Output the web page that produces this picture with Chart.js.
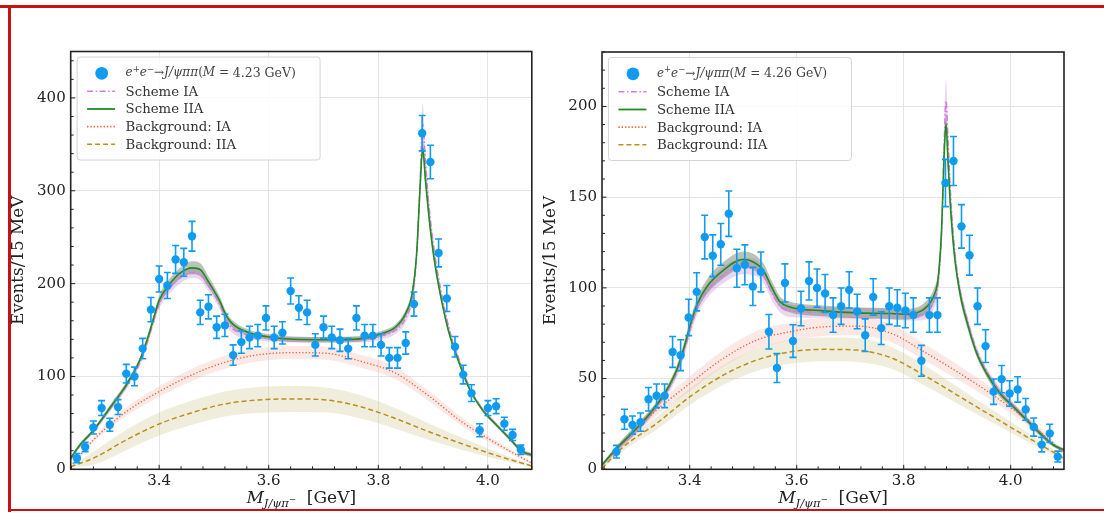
<!DOCTYPE html>
<html>
<head>
<meta charset="utf-8">
<script src="https://cdn.jsdelivr.net/npm/chart.js@4.4.1/dist/chart.umd.min.js"></script>
<style>
  html, body { margin: 0; padding: 0; background: #fff; }
  #wrap { position: relative; width: 1104px; height: 513px; overflow: hidden; }
  canvas { position: absolute; top: 0; }
  #cL { left: 0; }
  #cR { left: 536px; }
  .red { position: absolute; background: #c81212; }
</style>
</head>
<body>
<div id="wrap">
  <canvas id="cL" width="536" height="513"></canvas>
  <canvas id="cR" width="568" height="513"></canvas>
  <div class="red" style="left:0;top:5px;width:1104px;height:3px"></div>
  <div class="red" style="left:8px;top:5px;width:3px;height:507px"></div>
  <div class="red" style="left:8px;top:509px;width:1096px;height:2px"></div>
</div>
<script>
// ---- data: left panel (M = 4.23 GeV) ----
const binsL = [3.250, 3.265, 3.280, 3.295, 3.310, 3.325, 3.340, 3.355, 3.370, 3.385, 3.400, 3.415, 3.430, 3.445, 3.460, 3.475, 3.490, 3.505, 3.520, 3.535,
  3.550, 3.565, 3.580, 3.595, 3.610, 3.625, 3.640, 3.655, 3.670, 3.685, 3.700, 3.715, 3.730, 3.745, 3.760, 3.775, 3.790, 3.805, 3.820, 3.835,
  3.850, 3.865, 3.880, 3.895, 3.910, 3.925, 3.940, 3.955, 3.970, 3.985, 4.000, 4.015, 4.030, 4.045, 4.060];
const countsL = [12, 24, 45, 66, 48, 67, 103, 100, 130, 172, 205, 198, 226, 223, 251, 169, 175, 153, 155, 123,
  137, 142, 144, 163, 142, 147, 192, 174, 169, 134, 153, 142, 139, 130, 163, 144, 144, 134, 120, 120,
  136, 178, 362, 331, 233, 184, 132, 102, 82, 42, 66, 68, 49, 37, 21];
const errsL = [5, 5, 7, 8, 7, 8, 10, 10, 11, 13, 14, 14, 15, 15, 16, 13, 13, 12, 12, 11,
  12, 12, 12, 13, 12, 12, 14, 13, 13, 12, 12, 12, 12, 11, 13, 12, 12, 12, 11, 11,
  12, 13, 19, 18, 15, 14, 11, 10, 9, 7, 8, 8, 7, 6, 5];

// fit curves, left
const fitXL = [3.2386, 3.255, 3.28, 3.31, 3.34, 3.365, 3.38, 3.39, 3.40, 3.42, 3.44, 3.46, 3.475, 3.49, 3.51, 3.523, 3.535, 3.56, 3.595, 3.645,
  3.705, 3.765, 3.808, 3.832, 3.85, 3.862, 3.87, 3.876, 3.881, 3.886, 3.893, 3.902, 3.914, 3.929, 3.948, 3.966, 3.99, 4.015, 4.039, 4.063, 4.0801];
const schemeIIAL = [12, 26, 42, 66, 91, 118, 143, 163, 182, 200, 212, 217, 215, 202, 182, 165, 156, 148, 143, 140,
  139.5, 140.5, 146.5, 153.5, 168, 190, 233, 301, 346, 312, 269, 226, 186, 147, 114, 87, 64, 48, 33.5, 19, 15.5];
const schemeIAL = [11, 25, 41, 65, 89, 115, 140, 160, 178, 196, 207, 212, 210, 198, 178, 160, 151, 145, 141, 139.5,
  139.5, 139.5, 144, 150, 163, 185, 230, 305, 372, 330, 280, 235, 193, 152, 117, 89, 65, 48.5, 33.5, 19, 15];
const bandIIAL = [2, 2, 2, 3, 3, 3, 4, 4, 5, 6, 6, 7, 7, 6, 5, 4, 4, 3, 3, 3,
  3, 3, 3, 3, 4, 5, 6, 8, 10, 8, 6, 5, 4, 3, 3, 2, 2, 2, 2, 2, 2];
const bandIAL = [2, 2, 2, 3, 3, 3, 4, 4, 5, 6, 6, 6, 6, 6, 5, 5, 5, 4, 3, 3,
  3, 3, 4, 4, 5, 6, 8, 14, 22, 14, 8, 6, 4, 3, 3, 2, 2, 2, 2, 2, 2];
const bgXL = [3.2386, 3.28, 3.34, 3.40, 3.46, 3.52, 3.58, 3.645, 3.705, 3.77, 3.83, 3.89, 3.955, 4.015, 4.0801];
const bgIAL = [3, 31.6, 62, 83.7, 101.7, 115.3, 123.2, 125.7, 125, 116, 104, 80, 50, 28, 6.5];
const bgIAbandL = [0.5, 2.5, 4.5, 5.5, 6.5, 7, 7, 7, 7, 7, 6.5, 5.5, 4.5, 3, 1];
const bgIIAL = [2.8, 12, 31.6, 48.8, 61, 70.4, 74.7, 75.8, 74.7, 67, 55, 41, 27, 15, 3.5];
const bgIIAbandL = [0.5, 7, 11, 12.5, 13, 13.5, 14, 14, 13.5, 12.5, 11, 9, 6.5, 4, 1];

// ---- data: right panel (M = 4.26 GeV) ----
const binsR = [3.263, 3.278, 3.293, 3.308, 3.323, 3.338, 3.353, 3.368, 3.383, 3.398, 3.413, 3.428, 3.443, 3.458, 3.473, 3.488, 3.503, 3.518, 3.533, 3.548,
  3.563, 3.578, 3.593, 3.608, 3.623, 3.638, 3.653, 3.668, 3.683, 3.698, 3.713, 3.728, 3.743, 3.758, 3.773, 3.788, 3.803, 3.818, 3.833, 3.848,
  3.863, 3.878, 3.893, 3.908, 3.923, 3.938, 3.953, 3.968, 3.983, 3.998, 4.013, 4.028, 4.043, 4.058, 4.073, 4.088];
const countsR = [9.7, 27.6, 24.4, 26, 38.6, 40.5, 40.5, 64.7, 62.9, 83.7, 97.8, 128, 117.7, 124, 140.9, 110.8, 112.7, 100.8, 108.8, 75.8,
  55.8, 102.7, 70.7, 88.6, 103.8, 99.9, 96.9, 85, 89.9, 98.9, 87, 73.9, 95, 77.8, 89.9, 89, 87.5, 85, 59.8, 85,
  85, 157.8, 169.9, 133.9, 118, 89.9, 67.9, 42.8, 49.7, 41.8, 44, 33, 23.3, 13.6, 19.8, 7];
const errsR = [3.5, 5.5, 5, 5, 6.5, 6.5, 6.5, 8.5, 8.5, 10, 10.5, 12, 11.5, 11.5, 12.5, 10.5, 11, 10.5, 11, 9.5,
  8, 10.5, 9, 9.5, 10.5, 10.5, 10.5, 9.5, 10, 10, 9.5, 9, 10, 9, 10, 10, 9.5, 9.5, 8.5, 9.5,
  9.5, 13, 13.5, 12, 11, 10, 9, 7, 7.5, 7, 7, 6, 5, 4, 5, 3];

const fitXR = [3.236, 3.2635, 3.2945, 3.3257, 3.357, 3.3756, 3.388, 3.40, 3.413, 3.4317, 3.4627, 3.50, 3.5188, 3.5375, 3.553, 3.5687, 3.587, 3.65, 3.712, 3.774,
  3.80, 3.824, 3.843, 3.8553, 3.8646, 3.871, 3.8752, 3.879, 3.8827, 3.8878, 3.8958, 3.9052, 3.9207, 3.9364, 3.955, 3.98, 4.005, 4.03, 4.0547, 4.0796, 4.0996];
const schemeIIAR = [2.4, 11.6, 20.7, 30.8, 43.7, 54.7, 65.7, 78.5, 90.4, 100.5, 109.7, 115.6, 114.3, 109.7, 100.5, 92.3, 89.5, 87.3, 86.2, 85.9,
  85.5, 86.2, 89.5, 95, 106, 133.6, 170.3, 190.5, 170.3, 142.7, 115.2, 96.9, 78.5, 63.9, 52.8, 41.8, 34.5, 27.1, 19.8, 13.4, 10.6];
const schemeIAR = [2.2, 11, 20, 30, 42.5, 53, 63.5, 76, 88, 98, 107, 112, 111.5, 107, 97.5, 90, 87.5, 86.5, 86, 85.5,
  85, 85, 87, 92, 103, 132, 175, 203, 182, 150, 119, 99, 80.5, 65.5, 54, 43, 35.3, 27.6, 20, 13.5, 10.5];
const bandIIAR = [1, 1.5, 2, 2, 2, 2.5, 3, 3, 3.5, 4, 4.5, 4.5, 4.5, 4, 3.5, 3, 3, 3, 3, 3,
  3, 3, 3.5, 4, 4, 4.5, 5, 6, 5, 4, 3, 3, 2.5, 2, 2, 2, 1.5, 1.5, 1.5, 1, 1];
const bandIAR = [1, 1.5, 2, 2, 2, 2.5, 3, 3, 3.5, 4, 4.5, 4.5, 4.5, 4, 4, 3.5, 3.5, 3, 3, 3,
  3, 3, 4, 4, 5, 7, 10, 12, 10, 6, 4, 3, 2.5, 2, 2, 2, 1.5, 1.5, 1.5, 1, 1];
const bgXR = [3.236, 3.276, 3.338, 3.4005, 3.4627, 3.525, 3.587, 3.65, 3.712, 3.776, 3.843, 3.905, 3.967, 4.03, 4.0996];
const bgIAR = [2.4, 15.2, 32.6, 47.3, 61.1, 71.2, 75.8, 78.5, 78.9, 75, 63.9, 52.8, 40.9, 27.1, 8.8];
const bgIAbandR = [0.5, 2, 3, 4, 4.5, 5, 5, 5, 5, 5, 4.5, 4, 3.5, 2.5, 1];
const bgIIAR = [0.6, 12.4, 25.3, 40, 51.9, 60.2, 64.7, 66.1, 65.7, 61.5, 51, 40, 29, 17.9, 6];
const bgIIAbandR = [0.5, 2, 3.5, 4.5, 5.5, 6, 6.5, 6.5, 6.5, 6, 5.5, 4.5, 3.5, 2.5, 1];

// ticks
const xTicks = [3.4, 3.6, 3.8, 4.0];
const yTicksL = [0, 100, 200, 300, 400];
const yTicksR = [0, 50, 100, 150, 200];
const legendLabels = ['Scheme IA', 'Scheme IIA', 'Background: IA', 'Background: IIA'];

// ---- styles ----
const SERIF = '"DejaVu Serif", serif';
const C = {
  pts: '#0f9bf0', ia: '#d27ddc', iia: '#228a22', bgIA: '#f0623e', bgIIA: '#b98f1c',
  iaBand: 'rgba(195,120,215,0.32)', iiaBand: 'rgba(70,100,70,0.38)',
  bgIABand: 'rgba(240,150,130,0.22)', bgIIABand: 'rgba(200,185,120,0.25)'
};
const DASH = { ia: [6, 2.5, 1.5, 2.5], iia: [], bgIA: [1.3, 2], bgIIA: [5, 3] };

function line(xs, ys, color, dash, width, order) {
  return { type: 'line', data: xs.map((x, i) => ({ x, y: ys[i] })), borderColor: color, borderWidth: width,
    borderDash: dash, pointRadius: 0, fill: false, cubicInterpolationMode: 'monotone', order };
}
function band(xs, ys, hw, color, order) {
  const base = { type: 'line', borderWidth: 0, borderColor: 'transparent', pointRadius: 0, cubicInterpolationMode: 'monotone', order };
  return [
    Object.assign({}, base, { data: xs.map((x, i) => ({ x, y: ys[i] + hw[i] })), fill: '+1', backgroundColor: color }),
    Object.assign({}, base, { data: xs.map((x, i) => ({ x, y: ys[i] - hw[i] })), fill: false })
  ];
}

function rich(ctx, x, y, parts, align) {
  let w = 0;
  parts.forEach(p => { ctx.font = p.f; w += ctx.measureText(p.t).width; });
  let cx = align === 'center' ? x - w / 2 : x;
  ctx.textAlign = 'left';
  parts.forEach(p => { ctx.font = p.f; ctx.fillText(p.t, cx, y + (p.dy || 0)); cx += ctx.measureText(p.t).width; });
}

// frame, inward ticks, error bars, titles and legend
function decor(p) {
  return {
    id: 'decor',
    afterDatasetsDraw(chart) {
      const ctx = chart.ctx, xs = chart.scales.x, ys = chart.scales.y;
      ctx.save();
      ctx.strokeStyle = C.pts; ctx.lineWidth = 1.6;
      p.bins.forEach((b, i) => {
        const px = xs.getPixelForValue(b);
        const y0 = ys.getPixelForValue(p.counts[i] - p.errs[i]);
        const y1 = ys.getPixelForValue(p.counts[i] + p.errs[i]);
        ctx.beginPath();
        ctx.moveTo(px, y0); ctx.lineTo(px, y1);
        ctx.moveTo(px - 3.5, y0); ctx.lineTo(px + 3.5, y0);
        ctx.moveTo(px - 3.5, y1); ctx.lineTo(px + 3.5, y1);
        ctx.stroke();
      });
      ctx.restore();
    },
    afterDraw(chart) {
      const ctx = chart.ctx, a = chart.chartArea, xs = chart.scales.x, ys = chart.scales.y;
      ctx.save();
      // frame
      ctx.strokeStyle = '#222'; ctx.lineWidth = 1.6;
      ctx.strokeRect(a.left, a.top, a.right - a.left, a.bottom - a.top);
      // inward ticks
      ctx.lineWidth = 1;
      ctx.beginPath();
      for (let v = 3.24; v <= p.xMax + 1e-9; v += 0.04) {
        const px = xs.getPixelForValue(v);
        const major = xTicks.some(t => Math.abs(t - v) < 1e-6);
        ctx.moveTo(px, a.bottom); ctx.lineTo(px, a.bottom - (major ? 4.5 : 3));
      }
      for (let v = 0; v <= p.yMax + 1e-9; v += p.yMinor) {
        const py = ys.getPixelForValue(v);
        const major = p.yTicks.includes(v);
        ctx.moveTo(a.left, py); ctx.lineTo(a.left + (major ? 4.5 : 3), py);
      }
      ctx.stroke();
      // axis titles
      ctx.fillStyle = '#222';
      ctx.textBaseline = 'alphabetic';
      rich(ctx, (a.left + a.right) / 2, 503, [
        { t: 'M', f: 'italic 17px ' + SERIF },
        { t: 'J/ψπ', f: 'italic 11.5px ' + SERIF, dy: 4 },
        { t: '−', f: '8.5px ' + SERIF, dy: -1 },
        { t: '  [GeV]', f: '17px ' + SERIF }
      ], 'center');
      ctx.save();
      ctx.translate(a.left - 51.7, (a.top + a.bottom) / 2);
      ctx.rotate(-Math.PI / 2);
      ctx.font = '16.8px ' + SERIF; ctx.textAlign = 'center'; ctx.textBaseline = 'middle';
      ctx.fillText('Events/15 MeV', 0, 0);
      ctx.restore();
      // legend
      const lx = a.left + 6.4, ly = a.top + 5.5;
      ctx.fillStyle = 'rgba(255,255,255,0.85)';
      ctx.strokeStyle = '#d4d4d4'; ctx.lineWidth = 1;
      ctx.beginPath(); ctx.roundRect(lx, ly, 243, 103, 3); ctx.fill(); ctx.stroke();
      const rows = [16.3, 34.3, 52, 69.6, 87.2];
      ctx.fillStyle = C.pts;
      ctx.beginPath(); ctx.arc(lx + 24.6, ly + rows[0], 6.4, 0, Math.PI * 2); ctx.fill();
      ctx.fillStyle = '#444'; ctx.textBaseline = 'middle';
      rich(ctx, lx + 48.5, ly + rows[0], [
        { t: 'e', f: 'italic 12px ' + SERIF },
        { t: '+', f: '8.5px ' + SERIF, dy: -4 },
        { t: 'e', f: 'italic 12px ' + SERIF },
        { t: '−', f: '8.5px ' + SERIF, dy: -4 },
        { t: '→', f: '12px ' + SERIF },
        { t: 'J/ψππ', f: 'italic 12px ' + SERIF },
        { t: '(', f: '12px ' + SERIF },
        { t: 'M', f: 'italic 12px ' + SERIF },
        { t: ' = ', f: '12px ' + SERIF },
        { t: p.mass + ' GeV)', f: '12.5px ' + SERIF }
      ]);
      const keys = ['ia', 'iia', 'bgIA', 'bgIIA'];
      keys.forEach((k, j) => {
        const y = ly + rows[j + 1];
        ctx.strokeStyle = C[k]; ctx.lineWidth = k === 'iia' ? 1.8 : 1.6;
        ctx.setLineDash(DASH[k]);
        ctx.beginPath(); ctx.moveTo(lx + 10, y); ctx.lineTo(lx + 38, y); ctx.stroke();
        ctx.setLineDash([]);
        ctx.fillStyle = '#333'; ctx.font = '13.3px ' + SERIF; ctx.textAlign = 'left';
        ctx.fillText(legendLabels[j], lx + 48.5, y + 1);
      });
      ctx.restore();
    }
  };
}

function makeChart(p) {
  const cv = document.getElementById(p.id);
  const W = cv.width, H = cv.height, A = p.area;
  const datasets = [
    { type: 'scatter', data: p.bins.map((x, i) => ({ x, y: p.counts[i] })), pointRadius: 4.2, pointHoverRadius: 4.2,
      backgroundColor: C.pts, borderWidth: 0, order: 0 },
    line(p.fitX, p.iia, C.iia, DASH.iia, 1.6, 1),
    line(p.fitX, p.ia, C.ia, DASH.ia, 1.5, 2),
    line(p.bgX, p.bgIA, C.bgIA, DASH.bgIA, 1.3, 3),
    line(p.bgX, p.bgIIA, C.bgIIA, DASH.bgIIA, 1.5, 4),
    ...band(p.fitX, p.iia, p.iiaBand, C.iiaBand, 5),
    ...band(p.fitX, p.ia, p.iaBand, C.iaBand, 6),
    ...band(p.bgX, p.bgIA, p.bgIAband, C.bgIABand, 7),
    ...band(p.bgX, p.bgIIA, p.bgIIAband, C.bgIIABand, 8)
  ];
  new Chart(cv, {
    type: 'line',
    data: { datasets },
    options: {
      responsive: false, animation: false, events: [],
      layout: { padding: { left: 0, top: A.top, right: W - A.right, bottom: 0 } },
      plugins: { legend: { display: false }, tooltip: { enabled: false } },
      scales: {
        x: {
          type: 'linear', min: p.xMin, max: p.xMax,
          afterBuildTicks: s => { s.ticks = xTicks.map(v => ({ value: v })); },
          afterFit: s => { s.height = H - A.bottom; },
          ticks: { callback: v => v.toFixed(1), color: '#222', font: { family: SERIF, size: 15 }, padding: 3, maxRotation: 0 },
          grid: { color: '#e4e4e4', lineWidth: 1, drawTicks: false },
          border: { display: false }
        },
        y: {
          type: 'linear', min: 0, max: p.yMax,
          afterBuildTicks: s => { s.ticks = p.yTicks.map(v => ({ value: v })); },
          afterFit: s => { s.width = A.left; },
          ticks: { color: '#222', font: { family: SERIF, size: 15 }, padding: 5 },
          grid: { color: '#e4e4e4', lineWidth: 1, drawTicks: false },
          border: { display: false }
        }
      }
    },
    plugins: [decor(p)]
  });
}

makeChart({
  id: 'cL', area: { left: 70.7, top: 51.5, right: 532.7, bottom: 469.3 }, xMin: 3.2386, xMax: 4.0801,
  yMax: 450, yTicks: yTicksL, yMinor: 20, mass: '4.23',
  bins: binsL, counts: countsL, errs: errsL,
  fitX: fitXL, iia: schemeIIAL, ia: schemeIAL, iiaBand: bandIIAL, iaBand: bandIAL,
  bgX: bgXL, bgIA: bgIAL, bgIAband: bgIAbandL, bgIIA: bgIIAL, bgIIAband: bgIIAbandL
});
makeChart({
  id: 'cR', area: { left: 66, top: 52, right: 528, bottom: 469.3 }, xMin: 3.236, xMax: 4.0996,
  yMax: 230, yTicks: yTicksR, yMinor: 10, mass: '4.26',
  bins: binsR, counts: countsR, errs: errsR,
  fitX: fitXR, iia: schemeIIAR, ia: schemeIAR, iiaBand: bandIIAR, iaBand: bandIAR,
  bgX: bgXR, bgIA: bgIAR, bgIAband: bgIAbandR, bgIIA: bgIIAR, bgIIAband: bgIIAbandR
});
</script>
</body>
</html>
